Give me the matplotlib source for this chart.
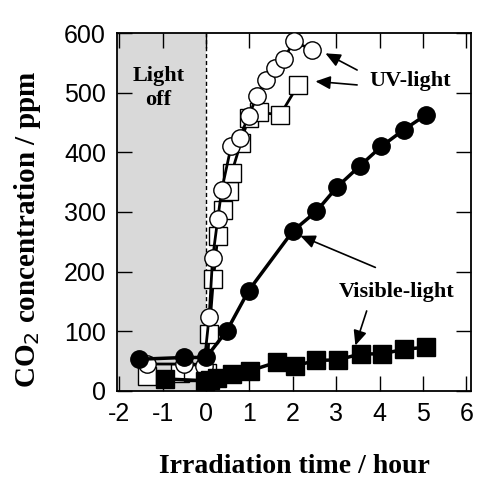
import matplotlib
matplotlib.use("Agg")
import matplotlib.pyplot as plt
from matplotlib.patches import FancyArrowPatch

plt.rcParams["axes.unicode_minus"] = False

# UV-light, open circles
uv_circle_x = [-1.37, -0.5, -0.05, 0.07, 0.15, 0.27, 0.36, 0.58, 0.77, 0.98, 1.18, 1.39, 1.59, 1.79, 2.02, 2.44]
uv_circle_y = [45, 45, 42, 124, 222, 289, 337, 411, 424, 461, 495, 522, 541, 556, 586, 572]
# UV-light, open squares
uv_square_x = [-1.35, -0.6, -0.3, 0.02, 0.07, 0.17, 0.27, 0.40, 0.52, 0.59, 0.80, 0.98, 1.21, 1.71, 2.12]
uv_square_y = [25, 30, 32, 30, 95, 188, 260, 304, 335, 366, 416, 458, 467, 463, 513]
# Visible-light, filled circles
vis_circle_x = [-1.55, -0.5, 0.0, 0.48, 0.98, 2.0, 2.54, 3.02, 3.54, 4.04, 4.56, 5.07]
vis_circle_y = [53, 56, 56, 101, 168, 268, 301, 342, 377, 410, 438, 463]
# Visible-light, filled squares
vis_square_x = [-0.95, -0.02, 0.10, 0.25, 0.59, 1.02, 1.63, 2.04, 2.54, 3.04, 3.56, 4.06, 4.57, 5.07]
vis_square_y = [20, 17, 18, 22, 28, 34, 48, 42, 51, 52, 62, 62, 70, 73]

x_ticks = [-2, -1, 0, 1, 2, 3, 4, 5, 6]
y_ticks = [0, 100, 200, 300, 400, 500, 600]

serif = "Liberation Serif"
sans = "Liberation Sans"

fig = plt.figure(figsize=(4.78, 4.79), dpi=100)
ax = fig.add_axes([0.245, 0.184, 0.74, 0.747])

ax.axvspan(-2.05, 0, color="#d9d9d9", zorder=0, lw=0)
ax.axvline(0, color="black", lw=1.0, ls=(0, (3, 2)), zorder=1)

ms = 12.5
ax.plot(uv_square_x, uv_square_y, color="black", lw=2, marker="s", ms=ms,
        mfc="white", mec="black", mew=1.0, zorder=3)
ax.plot(uv_circle_x, uv_circle_y, color="black", lw=2, marker="o", ms=ms,
        mfc="white", mec="black", mew=1.0, zorder=4)
ax.plot(vis_square_x, vis_square_y, color="black", lw=2.5, marker="s", ms=ms,
        mfc="black", mec="black", zorder=5)
ax.plot(vis_circle_x, vis_circle_y, color="black", lw=2.5, marker="o", ms=ms,
        mfc="black", mec="black", zorder=6)

ax.set_xlim(-2.05, 6.1)
ax.set_ylim(0, 600)
ax.set_xticks(x_ticks)
ax.set_yticks(y_ticks)
ax.tick_params(direction="in", length=11, width=1.0, top=True, right=True,
               labelsize=18, pad=8)
for lab in ax.get_xticklabels() + ax.get_yticklabels():
    lab.set_fontfamily(sans)
for s in ax.spines.values():
    s.set_linewidth(1.3)

ax.set_xlabel("Irradiation time / hour", fontfamily=serif, fontweight="bold",
              fontsize=20, labelpad=20)
ax.set_ylabel("CO$_2$ concentration / ppm", fontfamily=serif, fontweight="bold",
              fontsize=21)
ax.yaxis.set_label_coords(-0.21, 0.45)

ax.text(-1.1, 508, "Light\noff", fontfamily=serif, fontweight="bold",
        fontsize=16, ha="center", va="center", linespacing=1.25, zorder=7)
ax.text(4.71, 520, "UV-light", fontfamily=serif, fontweight="bold",
        fontsize=16, ha="center", va="center", zorder=7)
ax.text(4.39, 165, "Visible-light", fontfamily=serif, fontweight="bold",
        fontsize=16, ha="center", va="center", zorder=7)

def arrow(tail, head):
    a = FancyArrowPatch(tail, head, arrowstyle="-|>,head_length=9,head_width=4",
                        color="black", lw=1.2, shrinkA=0, shrinkB=0, zorder=8)
    ax.add_patch(a)

arrow((3.48, 538), (2.75, 566))
arrow((3.48, 513), (2.52, 519))
arrow((3.70, 134), (3.44, 76))
arrow((3.90, 207), (2.17, 260))

fig.savefig("out.png", dpi=100)
